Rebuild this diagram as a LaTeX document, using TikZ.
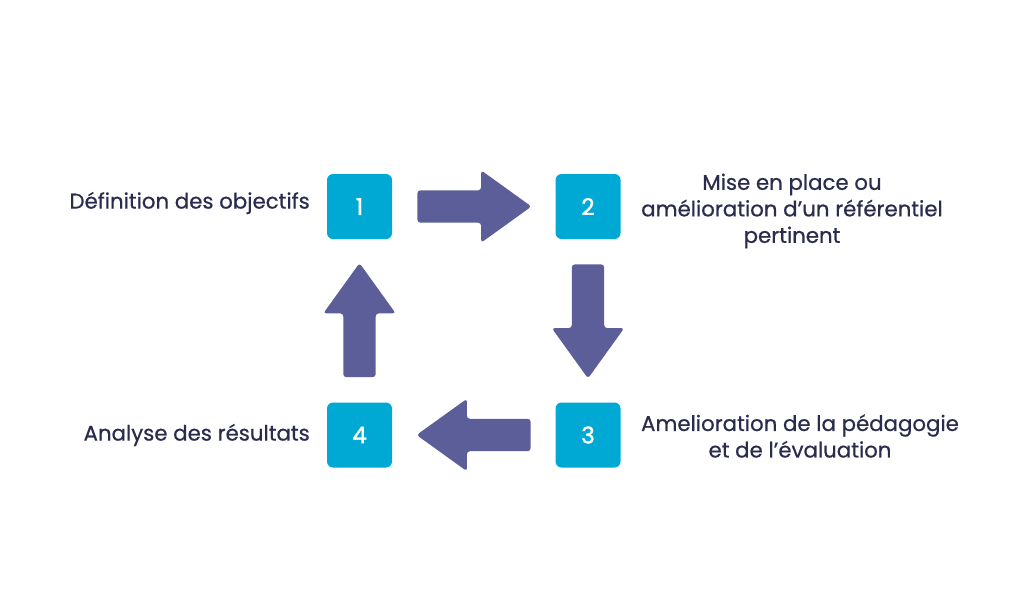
\documentclass[tikz,border=0pt]{standalone}
\usepackage{fontspec}
\setmainfont{Poppins}[FakeBold=0.6]
\newfontfamily\numfont{Poppins}[FakeBold=1.6]
\usetikzlibrary{shapes.arrows,calc}
\definecolor{boxcyan}{HTML}{00A9D4}
\definecolor{arrowpurple}{HTML}{5B5E98}
\definecolor{textnavy}{HTML}{2A2C4E}
\begin{document}
\begin{tikzpicture}[x=1pt,y=-1pt,
  numbox/.style={fill=boxcyan, rounded corners=6pt, minimum size=65pt, inner sep=0pt,
    text=white, font=\numfont\fontsize{23}{23}\selectfont},
  blockarrow/.style={single arrow, fill=arrowpurple, draw=none, inner sep=16pt,
    minimum height=114pt, minimum width=72pt, single arrow head extend=20pt,
    single arrow tip angle=71.5, rounded corners=3pt, anchor=tail},
  lbl/.style={text=textnavy, font=\fontsize{21.3}{26.5}\selectfont, inner sep=0pt, align=center}]
\useasboundingbox (0,0) rectangle (1024,611);
\fill[white] (0,0) rectangle (1024,611);
\node[numbox] (b1) at (359.5,206.5) {1};
\node[numbox] (b2) at (588,206.5) {2};
\node[numbox] (b3) at (588,435) {3};
\node[numbox] (b4) at (359.5,435) {4};
\node[blockarrow, shape border rotate=0] (a12) at ($(b1.east)+(25,0)$) {};
\node[blockarrow, shape border rotate=270] (a23) at ($(b2.south)+(0,25)$) {};
\node[blockarrow, shape border rotate=180] (a34) at ($(b3.west)+(-24.5,0)$) {};
\node[blockarrow, shape border rotate=90] (a41) at ($(b4.north)+(0,-25)$) {};
\node[lbl, anchor=east] (t1) at (310,203) {Définition des objectifs};
\node[lbl] (t2) at (792,211) {Mise en place ou\\amélioration d’un référentiel\\pertinent};
\node[lbl] (t3) at (800,436) {Amelioration de la pédagogie\\et de l’évaluation};
\node[lbl, anchor=east] (t4) at (310,435) {Analyse des résultats};
\end{tikzpicture}
\end{document}
